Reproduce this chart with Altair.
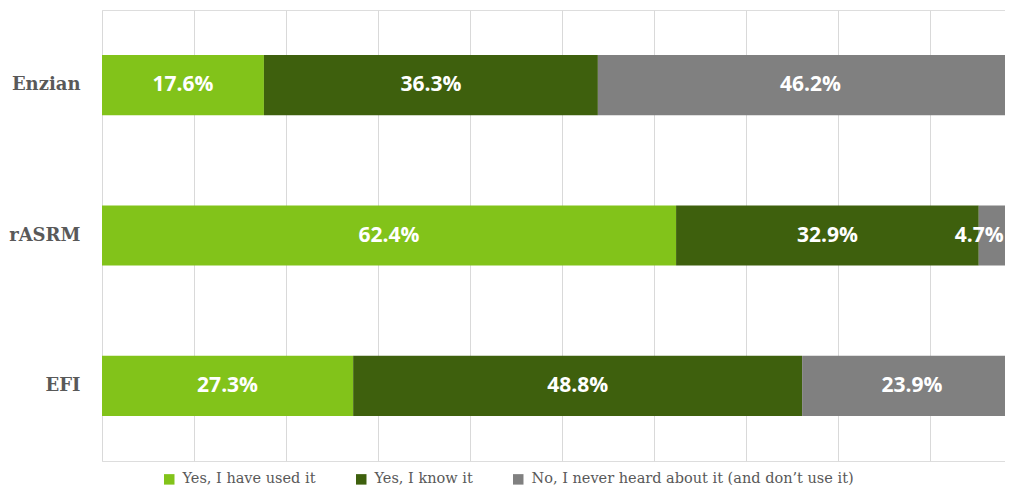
import altair as alt
import pandas as pd

institutions = ["Enzian", "rASRM", "EFI"]
responses = ["Yes, I have used it", "Yes, I know it", "No, I never heard about it (and don’t use it)"]
used = [17.6, 62.4, 27.3]
know = [36.3, 32.9, 48.8]
never = [46.2, 4.7, 23.9]
colors = ["#82c31a", "#3e600d", "#808080"]

rows = []
for i, inst in enumerate(institutions):
    for k, vals in enumerate([used, know, never]):
        rows.append({"inst": inst, "resp": responses[k], "order": k, "value": vals[i]})
df = pd.DataFrame(rows)

PLOT_W = 903
X_MAX = 100 * PLOT_W / 920
x_scale = alt.Scale(domain=[0, X_MAX], nice=False, zero=True)
y_scale = alt.Scale(domain=institutions, paddingInner=0.6, paddingOuter=0.3)

base = alt.Chart(df).transform_stack(
    stack="value", groupby=["inst"], as_=["x0", "x1"],
    sort=[alt.SortField("order", order="ascending")]
).transform_calculate(
    mid=f"min((datum.x0 + datum.x1) / 2, {X_MAX - 2.8})",
    lbl="format(datum.value, '.1f') + '%'",
)

bars = base.mark_bar(clip=True).encode(
    y=alt.Y("inst:N", scale=y_scale, sort=institutions,
            axis=alt.Axis(title=None, domain=False, ticks=False, labelPadding=22,
                          labelFont="DejaVu Serif", labelFontWeight="bold",
                          labelFontSize=18, labelColor="#595959")),
    x=alt.X("x0:Q", scale=x_scale,
            axis=alt.Axis(title=None, labels=False, ticks=False, domain=False,
                          values=[0, 10, 20, 30, 40, 50, 60, 70, 80, 90],
                          grid=True, gridColor="#d9d9d9", gridWidth=1)),
    x2="x1:Q",
    color=alt.Color("resp:N", scale=alt.Scale(domain=responses, range=colors),
                    legend=alt.Legend(title=None, orient="none", direction="horizontal",
                                      legendX=60, legendY=462, symbolType="square",
                                      symbolSize=110, symbolStrokeWidth=0,
                                      labelFont="DejaVu Serif", labelFontSize=14.5,
                                      labelColor="#595959", labelLimit=600,
                                      labelOffset=6, columnPadding=38, padding=0)),
)

labels = base.mark_text(clip=True, color="white", font="Open Sans", fontWeight="bold",
                        fontSize=21, baseline="middle", align="center").encode(
    y=alt.Y("inst:N", scale=y_scale, sort=institutions),
    x=alt.X("mid:Q", scale=x_scale),
    text="lbl:N",
)

chart = alt.layer(bars, labels).properties(
    width=PLOT_W, height=451,
    autosize=alt.AutoSizeParams(type="none"),
    padding={"left": 94, "top": 2, "right": 0, "bottom": 24},
).configure_view(stroke=None).configure(background="white")

chart.save("out.html", embed_options={"renderer": "svg", "actions": False})
